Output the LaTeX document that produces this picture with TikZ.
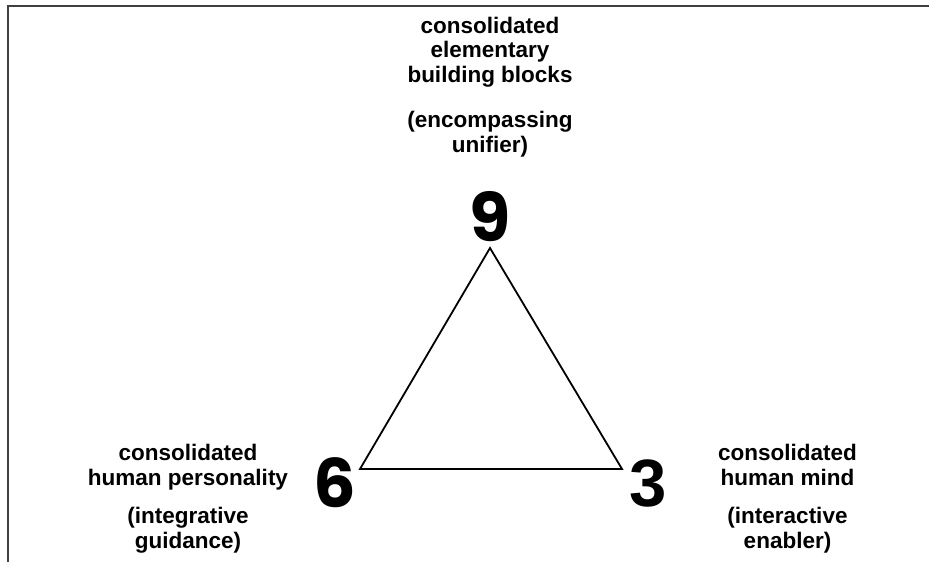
\documentclass[tikz,border=0pt]{standalone}
\usepackage{fontspec}
\setmainfont{Liberation Sans}
\newfontfamily\roundfont{Poppins}
\usetikzlibrary{positioning}

\begin{document}
\begin{tikzpicture}[x=1pt, y=-1pt,
label text/.style = {font=\fontsize{22.5}{24.5}\selectfont\bfseries, align=center, inner sep=0pt, anchor=base},
big digit/.style = {font=\fontsize{67}{67}\selectfont\bfseries, inner sep=0pt, anchor=base},
frame line/.style = {draw=black!75, line width=2.2pt}]
\useasboundingbox (0,0) rectangle (929,562);
\draw[frame line] (8,562) -- (8,6) -- (929,6);

\coordinate (v9) at (490,248);
\coordinate (v6) at (360,469);
\coordinate (v3) at (622,469);
\draw[line width=1.8pt, line join=miter] (v9) -- (v6) -- (v3) -- cycle;

\node[big digit] (n9) at (490,241) {\roundfont\bfseries 9};
\node[big digit] (n6) at (334.5,507) {\roundfont\bfseries 6};
\node[big digit] (n3) at (648,506) {3};

\node[label text] (t9) at (490,152) {consolidated\\elementary\\building blocks\\[21pt](encompassing\\unifier)};
\node[label text] (t6) at (188,548) {consolidated\\human personality\\[14pt](integrative\\guidance)};
\node[label text] (t3) at (787.5,548) {consolidated\\human mind\\[14pt](interactive\\enabler)};
\end{tikzpicture}
\end{document}
